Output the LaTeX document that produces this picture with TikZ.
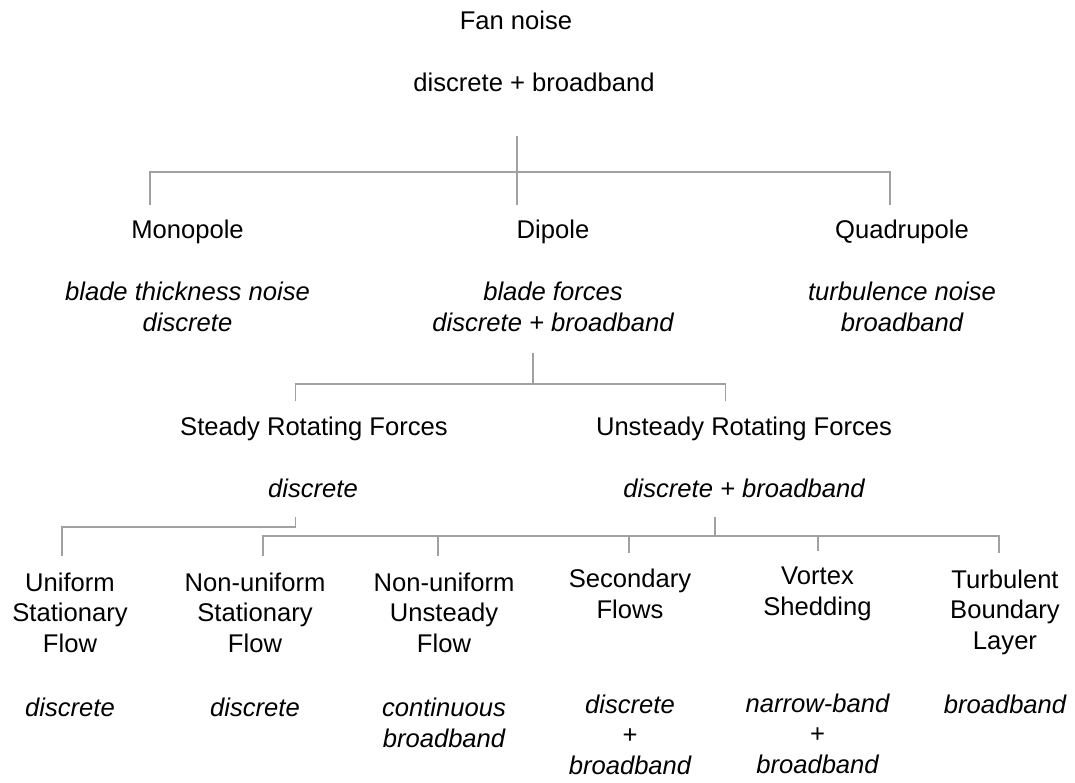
\documentclass[tikz,border=0pt]{standalone}
\usepackage{fontspec}
\setmainfont{Liberation Sans}
\begin{document}
\begin{tikzpicture}[x=1pt,y=-1pt,
  lbl/.style={inner sep=0pt, anchor=base, align=center, font=\fontsize{25.6}{30.5}\selectfont},
  itl/.style={lbl, font=\fontsize{25.6}{30.5}\selectfont\itshape},
  conn/.style={draw=black!37, line width=1.3pt}]
\useasboundingbox (0,0) rectangle (1075,782);
% level 0 (base anchor = baseline of the last line)
\node[lbl] (fan) at (516,29) {Fan noise};
\node[lbl] (fanb) at (534,91) {discrete + broadband};
% level 1
\node[lbl] (mono) at (187.5,238) {Monopole};
\node[itl] (monob) at (187.5,331) {blade thickness noise\\discrete};
\node[lbl] (dip) at (553,238) {Dipole};
\node[itl] (dipb) at (553,331) {blade forces\\discrete + broadband};
\node[lbl] (quad) at (902,238) {Quadrupole};
\node[itl] (quadb) at (902,331) {turbulence noise\\broadband};
% level 2
\node[lbl] (srf) at (314,435) {Steady Rotating Forces};
\node[itl] (srfb) at (313,497) {discrete};
\node[lbl] (urf) at (744,435) {Unsteady Rotating Forces};
\node[itl] (urfb) at (744,497) {discrete + broadband};
% level 3
\node[lbl] (usf) at (70,652) {Uniform\\Stationary\\Flow};
\node[itl] (usfb) at (70,716) {discrete};
\node[lbl] (nsf) at (255,652) {Non-uniform\\Stationary\\Flow};
\node[itl] (nsfb) at (255,716) {discrete};
\node[lbl] (nuf) at (444,652) {Non-uniform\\Unsteady\\Flow};
\node[itl] (nufb) at (444,747) {continuous\\broadband};
\node[lbl] (sec) at (630,618) {Secondary\\Flows};
\node[itl] (secb) at (630,774) {discrete\\\upshape+\\broadband};
\node[lbl] (vs) at (817.5,615) {Vortex\\Shedding};
\node[itl] (vsb) at (817.5,773) {narrow-band\\\upshape+\\broadband};
\node[lbl] (tbl) at (1005,649) {Turbulent\\Boundary\\Layer};
\node[itl] (tblb) at (1005,713) {broadband};
% connector coordinates
\coordinate (fan-bot) at (517,136);
\coordinate (j1) at (517,172);
\coordinate (mono-top) at (150,205);
\coordinate (dip-top) at (517,205);
\coordinate (quad-top) at (890,205);
\coordinate (dip-bot) at (533,353);
\coordinate (j2) at (533,384);
\coordinate (srf-top) at (295.5,401);
\coordinate (urf-top) at (725.5,401);
\coordinate (srf-bot) at (295.5,517);
\coordinate (j3) at (295.5,527);
\coordinate (usf-top) at (62,556);
\coordinate (urf-bot) at (715,517);
\coordinate (j4) at (715,536);
\coordinate (nsf-top) at (263,556);
\coordinate (nuf-top) at (438,556);
\coordinate (sec-top) at (629,553);
\coordinate (vs-top) at (818,551);
\coordinate (tbl-top) at (999,553);
% connectors
\draw[conn] (fan-bot) -- (dip-top);
\draw[conn] (mono-top) |- (j1) -| (quad-top);
\draw[conn] (dip-bot) -- (j2);
\draw[conn] (srf-top) |- (j2) -| (urf-top);
\draw[conn] (srf-bot) -- (j3) -| (usf-top);
\draw[conn] (urf-bot) -- (j4);
\draw[conn] (nsf-top) |- (j4) -| (tbl-top);
\draw[conn] (nuf-top) -- (nuf-top |- j4);
\draw[conn] (sec-top) -- (sec-top |- j4);
\draw[conn] (vs-top) -- (vs-top |- j4);
\end{tikzpicture}
\end{document}
